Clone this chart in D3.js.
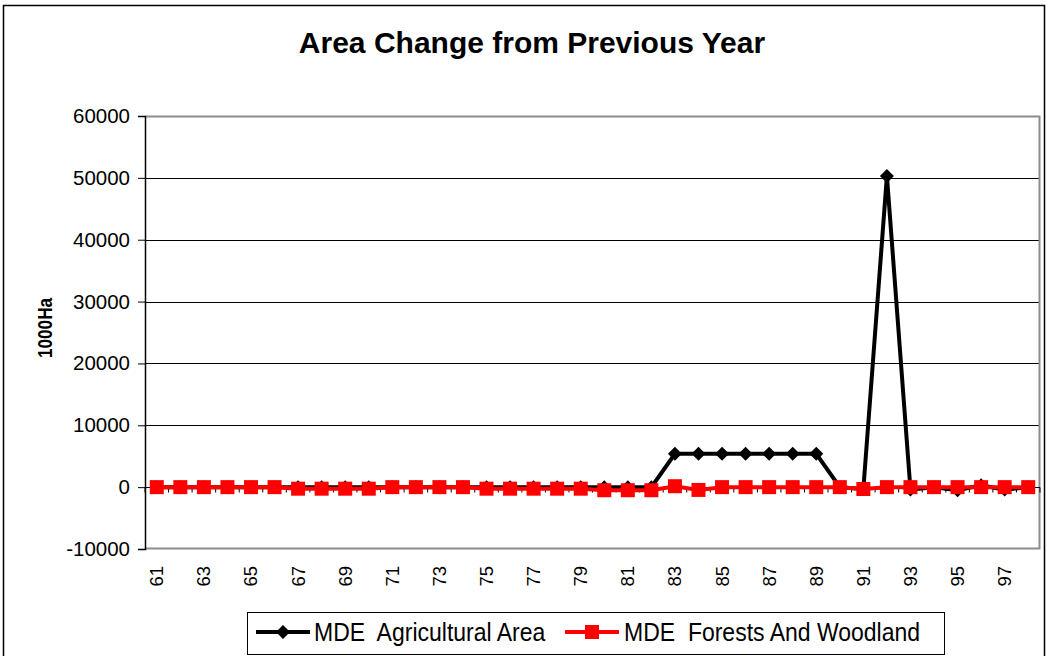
<!DOCTYPE html>
<html><head><meta charset="utf-8">
<script src="https://cdn.jsdelivr.net/npm/d3@7"></script>
<style>
html,body{margin:0;padding:0;background:#fff;}
svg text{font-family:Arial,"Liberation Sans",sans-serif;}
</style></head>
<body>
<svg id="chart" width="1047" height="656"></svg>
<script>
const years = ["61","62","63","64","65","66","67","68","69","70","71","72","73","74","75","76","77","78","79","80","81","82","83","84","85","86","87","88","89","90","91","92","93","94","95","96","97","98"];
const agricultural = [0,0,0,0,0,0,0,0,0,0,0,0,0,0,0,0,0,0,0,0,0,0,5400,5400,5400,5400,5400,5400,5400,0,-300,50300,-400,0,-500,300,-400,0];
const forests = [0,0,0,0,0,0,-250,-250,-250,-250,0,0,0,0,-250,-250,-250,-250,-250,-500,-500,-500,150,-450,0,0,0,0,0,0,-300,0,0,0,0,0,0,0];
const yTicks = [-10000,0,10000,20000,30000,40000,50000,60000];
const seriesNames = ["MDE  Agricultural Area","MDE  Forests And Woodland"];
const seriesColors = ["#000000","#ff0000"];

const svg = d3.select("#chart");
// outer chart border
svg.append("rect").attr("x",3.5).attr("y",5.5).attr("width",1041).attr("height",660)
  .attr("fill","none").attr("stroke","#000").attr("stroke-width",1.5);

const L=145, R=1040, T=116, B=549;
const x = d3.scaleBand().domain(years).range([L,R]).padding(0);
const y = d3.scaleLinear().domain([-10000,60000]).range([B,T]);

// title
svg.append("text").attr("x",532).attr("y",53).attr("text-anchor","middle")
  .attr("font-size",30).attr("font-weight","bold").text("Area Change from Previous Year");

// gridlines
svg.append("g").selectAll("line").data(yTicks.filter(v=>v>-10000&&v<60000)).join("line")
  .attr("x1",L).attr("x2",R).attr("y1",d=>Math.round(y(d))+0.5).attr("y2",d=>Math.round(y(d))+0.5)
  .attr("stroke","#000").attr("stroke-width",1);

// plot border (grey) top, right, bottom
svg.append("path").attr("d",`M${L},${T+0.5}H${R-0.5}V${B-0.5}H${L}`)
  .attr("fill","none").attr("stroke","#8c8c8c").attr("stroke-width",2);

// y axis
const yAxis = d3.axisLeft(y).tickValues(yTicks).tickSize(7).tickPadding(8).tickFormat(d=>String(d));
const gy = svg.append("g").attr("transform",`translate(${L},0)`).call(yAxis);
gy.select(".domain").attr("stroke","#000").attr("stroke-width",1.5);
gy.selectAll("text").attr("font-size",20.5).attr("fill","#000");

// x axis at y=0 with ticks between categories
const gx = svg.append("g").attr("transform",`translate(0,${Math.round(y(0))+0.5})`);
gx.append("line").attr("x1",L).attr("x2",R).attr("stroke","#000").attr("stroke-width",1);
const bounds = years.map(d=>x(d)).concat([R]);
gx.selectAll("line.tk").data(bounds).join("line").attr("class","tk")
  .attr("x1",d=>d).attr("x2",d=>d).attr("y1",0).attr("y2",5).attr("stroke","#000");

// x labels (every other)
svg.append("g").selectAll("text").data(years.filter((d,i)=>i%2===0)).join("text")
  .attr("transform",d=>`translate(${x(d)+x.bandwidth()/2+6.5},566) rotate(-90)`)
  .attr("text-anchor","end").attr("font-size",18.5).text(d=>d);

// y label
svg.append("text").attr("transform","translate(52,328) rotate(-90) scale(0.86,1)").attr("text-anchor","middle")
  .attr("font-size",20).attr("font-weight","bold").text("1000Ha");

const cx = d=>x(d)+x.bandwidth()/2;
const line = d3.line().x((d,i)=>cx(years[i])).y(d=>y(d));
const dia = "M0,-7L7,0L0,7L-7,0Z";

// agricultural
svg.append("path").datum(agricultural).attr("d",line).attr("fill","none")
  .attr("stroke",seriesColors[0]).attr("stroke-width",4).attr("stroke-linejoin","miter");
svg.append("g").selectAll("path").data(agricultural).join("path")
  .attr("d",dia).attr("transform",(d,i)=>`translate(${cx(years[i])},${y(d)})`).attr("fill",seriesColors[0]);

// forests
svg.append("path").datum(forests).attr("d",line).attr("fill","none")
  .attr("stroke",seriesColors[1]).attr("stroke-width",4);
svg.append("g").selectAll("rect").data(forests).join("rect")
  .attr("x",(d,i)=>cx(years[i])-7).attr("y",d=>y(d)-7).attr("width",14).attr("height",14)
  .attr("fill",seriesColors[1]);

// legend
const lg = svg.append("g");
lg.append("rect").attr("x",247.5).attr("y",612.5).attr("width",697).attr("height",42)
  .attr("fill","#fff").attr("stroke","#000").attr("stroke-width",1);
const legItems = [{x:256, tx:314},{x:565, tx:624}];
legItems.forEach((it,i)=>{
  lg.append("line").attr("x1",it.x).attr("x2",it.x+54).attr("y1",632).attr("y2",632)
    .attr("stroke",seriesColors[i]).attr("stroke-width",4);
  if(i===0){
    lg.append("path").attr("d",dia).attr("transform",`translate(${it.x+27},632)`).attr("fill",seriesColors[0]);
  } else {
    lg.append("rect").attr("x",it.x+20).attr("y",625).attr("width",14).attr("height",14).attr("fill",seriesColors[1]);
  }
  lg.append("text").attr("transform",`translate(${it.tx},641) scale(0.92,1)`).attr("font-size",25)
    .text(seriesNames[i]).style("white-space","pre");
});
</script>
</body></html>
